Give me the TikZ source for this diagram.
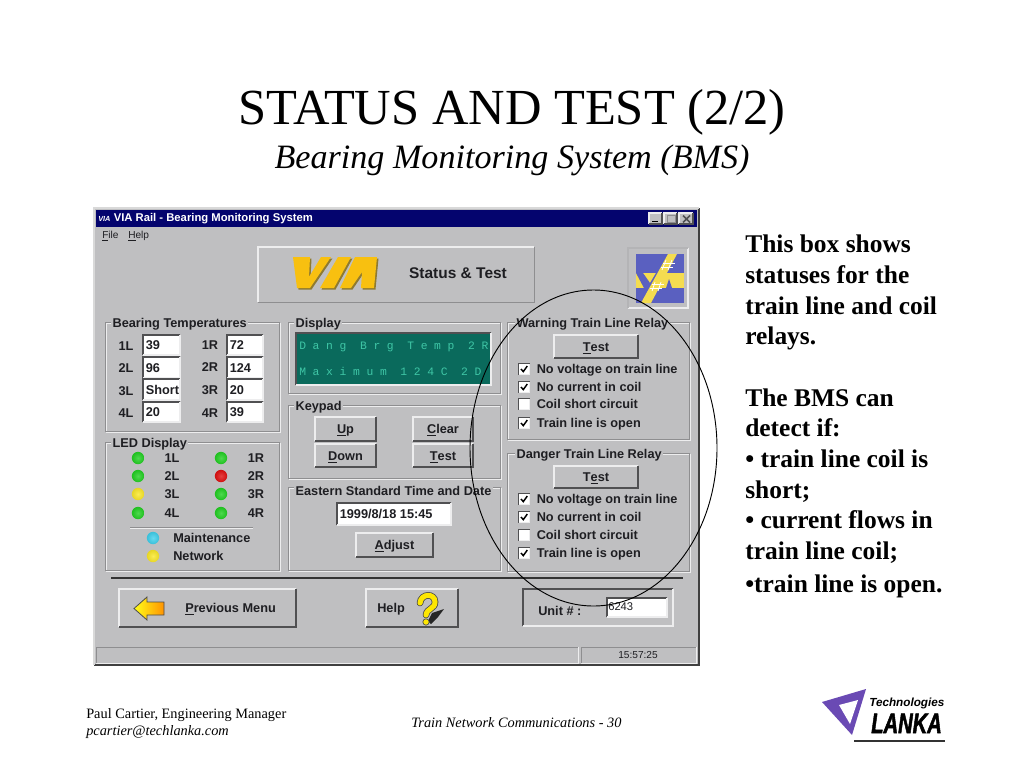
\documentclass[tikz,border=0pt]{standalone}
\usepackage{fontspec}
\setmainfont{Liberation Serif}
\setsansfont{Liberation Sans}
\newfontfamily\lcdfont[LetterSpace=59]{Liberation Mono}
\newfontfamily\lankafont[BoldItalicFeatures={FakeBold=2.2}]{Liberation Sans}
\usetikzlibrary{calc}
\definecolor{uigray}{HTML}{BFBFC1}
\definecolor{uidark}{HTML}{505052}
\definecolor{uimid}{HTML}{8E8E90}
\definecolor{uilight}{HTML}{EDEDEE}
\definecolor{uitext}{HTML}{1E1E22}
\definecolor{navy}{HTML}{04046E}
\definecolor{lcdbg}{HTML}{0A6A5C}
\definecolor{lcdtx}{HTML}{3FC6A6}
\definecolor{viayellow}{HTML}{F8C010}
\definecolor{viashade}{HTML}{8E7A30}
\definecolor{viablue}{HTML}{5A60C0}
\definecolor{viabar}{HTML}{F4DC50}
\definecolor{lankap}{HTML}{6A4AB4}
\definecolor{ledgreen}{HTML}{22D022}
\definecolor{ledred}{HTML}{E01010}
\definecolor{ledyellow}{HTML}{FAE828}
\definecolor{ledcyan}{HTML}{40D0EC}
\tikzset{
  uilabel/.style={font=\sffamily\bfseries\fontsize{9.55}{11}\selectfont,text=uitext,inner sep=0pt,text height=6.9pt,text depth=0pt},
  uiright/.style={uilabel,anchor=west},
  grouplabel/.style={uilabel,anchor=west,fill=uigray,inner xsep=1pt,inner ysep=0pt},
  fieldtext/.style={uilabel,anchor=west},
  bigtext/.style={font=\bfseries\fontsize{19.1}{21}\selectfont,anchor=base west,inner sep=0pt,text=black},
  foot/.style={font=\fontsize{10.75}{13}\selectfont,anchor=base west,inner sep=0pt,text=black},
}
\newcommand\und[1]{\underline{#1}}
\newcommand\raisedbox[4]{%
  \fill[uigray] (#1,#2) rectangle (#3,#4);
  \draw[uilight,line width=0.9pt] (#1,#4)--(#1,#2)--(#3,#2);
  \draw[uidark,line width=1.1pt] (#1,#4)--(#3,#4)--(#3,#2);}
\newcommand\sunken[5]{%
  \fill[#5] (#1,#2) rectangle (#3,#4);
  \draw[uidark,line width=1pt] (#1,#4)--(#1,#2)--(#3,#2);
  \draw[uilight,line width=0.9pt] (#1,#4)--(#3,#4)--(#3,#2);}
\newcommand\groupbox[4]{%
  \draw[uilight,line width=0.7pt] ($(#1,#2)+(1,1)$) rectangle ($(#3,#4)+(1,1)$);
  \draw[uimid,line width=0.7pt] (#1,#2) rectangle (#3,#4);}
\newcommand\btn[6]{%
  \raisedbox{#2}{#3}{#4}{#5}
  \node[uilabel] (#1) at ({(#2+#4)/2},{(#3+#5)/2}) {#6};}
\newcommand\field[6]{%
  \sunken{#2}{#3}{#4}{#5}{white}
  \node[fieldtext] (#1) at (#2+2.5,{(#3+#5)/2}) {#6};}
\newcommand\led[4]{%
  \shade[inner color=#4!80!white,outer color=#4!92!black] (#2,#3) circle (6.2);
  \coordinate (#1) at (#2,#3);}
\newcommand\chk[4]{%
  \sunken{518.5}{#2-5.5}{529.5}{#2+5.5}{white}
  \ifnum#3=1
    \draw[black,line width=1.1pt] (521,#2) -- (523.3,#2+2.6) -- (527.3,#2-3);
  \fi
  \node[uiright] (#1) at (536.5,#2) {#4};}
\begin{document}
\begin{tikzpicture}[x=0.75pt,y=-0.75pt]
\useasboundingbox (0,0) rectangle (1024,768);
\fill[white] (0,0) rectangle (1024,768);

% slide title
\node[inner sep=0pt,font=\fontsize{37.9}{42}\selectfont,anchor=base] (title) at (512,124) {STATUS AND TEST (2/2)};
\node[inner sep=0pt,font=\itshape\fontsize{25.6}{30}\selectfont,anchor=base] (subtitle) at (512,168) {Bearing Monitoring System (BMS)};

% window
\fill[uigray] (94,208) rectangle (699,665);
\draw[black!75,line width=1pt] (699,208)--(699,665)--(94,665);
\draw[white!85!black,line width=0.8pt] (94,665)--(94,208)--(699,208);
\fill[navy] (96,210) rectangle (697,227);
\node[inner sep=0pt,anchor=west,text=white,font=\sffamily\bfseries\itshape\fontsize{5.5}{6}\selectfont] (wicon) at (98,218.5) {VIA};
\node[inner sep=0pt,anchor=west,text=white,font=\sffamily\bfseries\fontsize{8.45}{9}\selectfont] (wtitle) at (113.5,218.5) {VIA Rail - Bearing Monitoring System};
% window buttons
\raisedbox{649}{213}{662}{224}
\raisedbox{664}{213}{677}{224}
\raisedbox{679}{213}{693}{224}
\draw[black,line width=1.2pt] (652,221.5)--(658,221.5);
\draw[uimid,line width=0.7pt] (667,215.5) rectangle (675,222.5);
\draw[uidark,line width=1.1pt] (683,215.5)--(690,222.5) (690,215.5)--(683,222.5);
% menu
\node[inner sep=0pt,anchor=west,text=uitext,font=\sffamily\fontsize{7.6}{9}\selectfont] (mfile) at (102,236.5) {\und{F}ile};
\node[inner sep=0pt,anchor=west,text=uitext,font=\sffamily\fontsize{7.6}{9}\selectfont] (mhelp) at (128,236.5) {\und{H}elp};

% banner
\draw[uimid,line width=0.7pt] (258,302)--(534,302)--(534,247);
\draw[uilight,line width=0.9pt] (258,302)--(258,247)--(534,247);
\begin{scope}[shift={(1.5,1.5)}]
\fill[viashade] (293,257)--(310,257)--(309,277)--(321,257)--(331,257)--(310,288)--(297,288)--cycle;
\fill[viashade] (320,288)--(334,288)--(351,257)--(338,257)--cycle;
\fill[viashade] (355,257)--(377,257)--(374,288)--(361,288)--(362,272)--(351,288)--(340,288)--cycle;
\end{scope}
\fill[viayellow] (293,257)--(310,257)--(309,277)--(321,257)--(331,257)--(310,288)--(297,288)--cycle;
\fill[viayellow] (320,288)--(334,288)--(351,257)--(338,257)--cycle;
\fill[viayellow] (355,257)--(377,257)--(374,288)--(361,288)--(362,272)--(351,288)--(340,288)--cycle;
\node[inner sep=0pt,text=uitext,font=\sffamily\bfseries\fontsize{11.6}{13}\selectfont] (status) at (458,273.5) {Status \& Test};

% corner logo
\draw[uilight,line width=0.9pt] (628,308)--(688,308)--(688,248);
\draw[uimid!60!uilight,line width=0.9pt] (628,308)--(628,248)--(688,248);
\fill[viablue] (636,254) rectangle (684,303);
\fill[viabar] (636,273) rectangle (684,288);
\fill[viablue] (636,273)--(643,273)--(650,283)--(656,273)--(660,273)--(652,288)--(644,288)--cycle;
\fill[viablue] (666,288)--(669,279)--(672,288)--cycle;
\fill[viabar] (668,254)--(677,254)--(651,303)--(641,303)--cycle;
\draw[white,line width=0.7pt] (663,263)--(675,263) (661,267)--(673,267) (652,284)--(664,284) (650,288)--(662,288);
\draw[white,line width=0.6pt] (666,260)--(662,270) (672,260)--(668,270) (655,282)--(652,291) (661,282)--(658,291);

% bearing temperatures
\groupbox{105}{322}{279}{431}
\node[grouplabel] (gbt) at (111,323) {Bearing Temperatures};
\node[uilabel] (b1l) at (126,346) {1L};
\node[uilabel] (b2l) at (126,368) {2L};
\node[uilabel] (b3l) at (126,391) {3L};
\node[uilabel] (b4l) at (126,413) {4L};
\node[uilabel] (b1r) at (210,345) {1R};
\node[uilabel] (b2r) at (210,367) {2R};
\node[uilabel] (b3r) at (210,390) {3R};
\node[uilabel] (b4r) at (210,413) {4R};
\field{f1l}{143}{335}{180}{355}{39}
\field{f2l}{143}{357}{180}{378}{96}
\field{f3l}{143}{379}{180}{400}{Short}
\field{f4l}{143}{402}{180}{422}{20}
\field{f1r}{227}{335}{263}{355}{72}
\field{f2r}{227}{357}{263}{378}{124}
\field{f3r}{227}{379}{263}{400}{20}
\field{f4r}{227}{402}{263}{422}{39}

% display
\groupbox{288}{322}{500}{393}
\node[grouplabel] (gdi) at (294,323) {Display};
\sunken{296}{333}{491}{385}{lcdbg}
\node[inner sep=0pt,anchor=west,text=lcdtx,font=\lcdfont\fontsize{8.5}{10}\selectfont] (lcda) at (299,347) {Dang Brg Temp 2R};
\node[inner sep=0pt,anchor=west,text=lcdtx,font=\lcdfont\fontsize{8.5}{10}\selectfont] (lcdb) at (299,371.5) {Maximum  124C 2D};

% keypad
\groupbox{288}{405}{500}{478}
\node[grouplabel] (gke) at (294,405.5) {Keypad};
\btn{kup}{315}{417}{376}{441}{\und{U}p}
\btn{kdown}{315}{444}{376}{467}{\und{D}own}
\btn{kclear}{413}{417}{473}{441}{\und{C}lear}
\btn{ktest}{413}{444}{473}{467}{\und{T}est}

% time
\groupbox{288}{487}{500}{570}
\node[grouplabel] (gti) at (294,491) {Eastern Standard Time and Date};
\field{ftime}{337}{503}{451}{525}{1999/8/18 15:45}
\btn{badj}{356}{533}{433}{557}{\und{A}djust}

% LED display
\groupbox{105}{442}{279}{570}
\node[grouplabel] (gle) at (111,443) {LED Display};
\led{l1l}{138}{458}{ledgreen}
\led{l2l}{138}{476}{ledgreen}
\led{l3l}{138}{494}{ledyellow}
\led{l4l}{138}{513}{ledgreen}
\led{l1r}{221}{458}{ledgreen}
\led{l2r}{221}{476}{ledred}
\led{l3r}{221}{494}{ledgreen}
\led{l4r}{221}{513}{ledgreen}
\node[uilabel] (t1l) at (172,458) {1L};
\node[uilabel] (t2l) at (172,476) {2L};
\node[uilabel] (t3l) at (172,494) {3L};
\node[uilabel] (t4l) at (172,513) {4L};
\node[uilabel] (t1r) at (256,458) {1R};
\node[uilabel] (t2r) at (256,476) {2R};
\node[uilabel] (t3r) at (256,494) {3R};
\node[uilabel] (t4r) at (256,513) {4R};
\draw[uimid,line width=0.6pt] (130,527)--(253,527);
\draw[uilight,line width=0.6pt] (130,528)--(253,528);
\led{lma}{153}{538}{ledcyan}
\led{lne}{153}{556}{ledyellow}
\node[uiright] (tma) at (173,538) {Maintenance};
\node[uiright] (tne) at (173,556) {Network};

% warning relay
\groupbox{507}{322}{689}{439}
\node[grouplabel] (gwa) at (515,323) {Warning Train Line Relay};
\btn{wtest}{554}{335}{638}{358}{\und{T}est}
\chk{w1}{369}{1}{No voltage on train line}
\chk{w2}{387}{1}{No current in coil}
\chk{w3}{404}{0}{Coil short circuit}
\chk{w4}{423}{1}{Train line is open}

% danger relay
\groupbox{507}{453}{689}{571}
\node[grouplabel] (gda) at (515,453.5) {Danger Train Line Relay};
\btn{dtest}{554}{466}{638}{488}{T\und{e}st}
\chk{d1}{499}{1}{No voltage on train line}
\chk{d2}{517}{1}{No current in coil}
\chk{d3}{535}{0}{Coil short circuit}
\chk{d4}{553}{1}{Train line is open}

% separator
\draw[black!80,line width=0.8pt] (111,578)--(683,578);

% previous menu
\raisedbox{119}{589}{296}{627}
\shade[left color=yellow!90!white,right color=orange!85!yellow,draw=black!70,line width=0.6pt] (134,608.5)--(147,597)--(147,602)--(164,602)--(164,615)--(147,615)--(147,620)--cycle;
\node[uiright] (tprev) at (185,608) {\und{P}revious Menu};

% help
\raisedbox{366}{589}{458}{627}
\node[uiright] (thelp) at (377,608) {Help};
\fill[black!85] (428,621)--(432,613)--(444,609)--(438,617)--(431,624)--cycle;
\draw[black!70,line width=5pt,line cap=round] (420,603) .. controls (421,593) and (435,593) .. (435,602) .. controls (435,609) and (427,608) .. (426,615);
\draw[yellow!90!orange,line width=3.8pt,line cap=round] (420,603) .. controls (421,593) and (435,593) .. (435,602) .. controls (435,609) and (427,608) .. (426,615);
\fill[yellow!90!orange,draw=black!70,line width=0.5pt] (426,622) circle (3.2);

% unit
\fill[uigray] (523,589) rectangle (673,626);
\draw[uidark,line width=1pt] (523,626)--(523,589)--(673,589);
\draw[uilight,line width=0.9pt] (523,626)--(673,626)--(673,589);
\node[uiright] (tunit) at (538,610.5) {Unit \# :};
\sunken{607}{598}{667}{617}{white}
\node[inner sep=0pt,anchor=west,text=uitext,font=\sffamily\fontsize{8.4}{9}\selectfont] (funit) at (608,606.5) {6243};

% status bar
\draw[uilight,line width=0.7pt] (96,663)--(578,663)--(578,647);
\draw[uimid,line width=0.7pt] (96,663)--(96,647)--(578,647);
\draw[uilight,line width=0.7pt] (581,663)--(696,663)--(696,647);
\draw[uimid,line width=0.7pt] (581,663)--(581,647)--(696,647);
\node[inner sep=0pt,text=uitext,font=\sffamily\fontsize{7.6}{9}\selectfont] (clock) at (638,654.5) {15:57:25};

% highlight ellipse
\draw[black,line width=0.7pt] (593.5,448) ellipse (123.5 and 158);

% side text
\node[bigtext] (s1) at (745,252) {This box shows};
\node[bigtext] (s2) at (745,283) {statuses for the};
\node[bigtext] (s3) at (745,314) {train line and coil};
\node[bigtext] (s4) at (745,344) {relays.};
\node[bigtext] (s5) at (745,406) {The BMS can};
\node[bigtext] (s6) at (745,436) {detect if:};
\node[bigtext] (s7) at (745,467) {• train line coil is};
\node[bigtext] (s8) at (745,498) {short;};
\node[bigtext] (s9) at (745,528) {• current flows in};
\node[bigtext] (s10) at (745,559) {train line coil;};
\node[bigtext] (s11) at (745,592) {•train line is open.};

% footer
\node[foot] (p1) at (86,718) {Paul Cartier, Engineering Manager};
\node[foot,font=\itshape\fontsize{10.75}{13}\selectfont] (p2) at (86,735) {pcartier@techlanka.com};
\node[foot,font=\itshape\fontsize{10.75}{13}\selectfont] (p3) at (411,727) {Train Network Communications - 30};

% company logo
\fill[lankap] (822,702)--(866,689)--(852,735)--cycle;
\fill[white] (839,705)--(858,700)--(850,724)--cycle;
\node[inner sep=0pt,anchor=west,text=black,font=\sffamily\bfseries\itshape\fontsize{8.8}{10}\selectfont] (ltech) at (869,703) {Technologies};
\node[inner sep=0pt,anchor=base west,text=black,font=\lankafont\bfseries\itshape\fontsize{21}{22}\selectfont] (llanka) at (871,733) {\scalebox{0.72}[1]{LANKA}};
\draw[black!80,line width=1.1pt] (854,741)--(945,741);
\end{tikzpicture}
\end{document}
